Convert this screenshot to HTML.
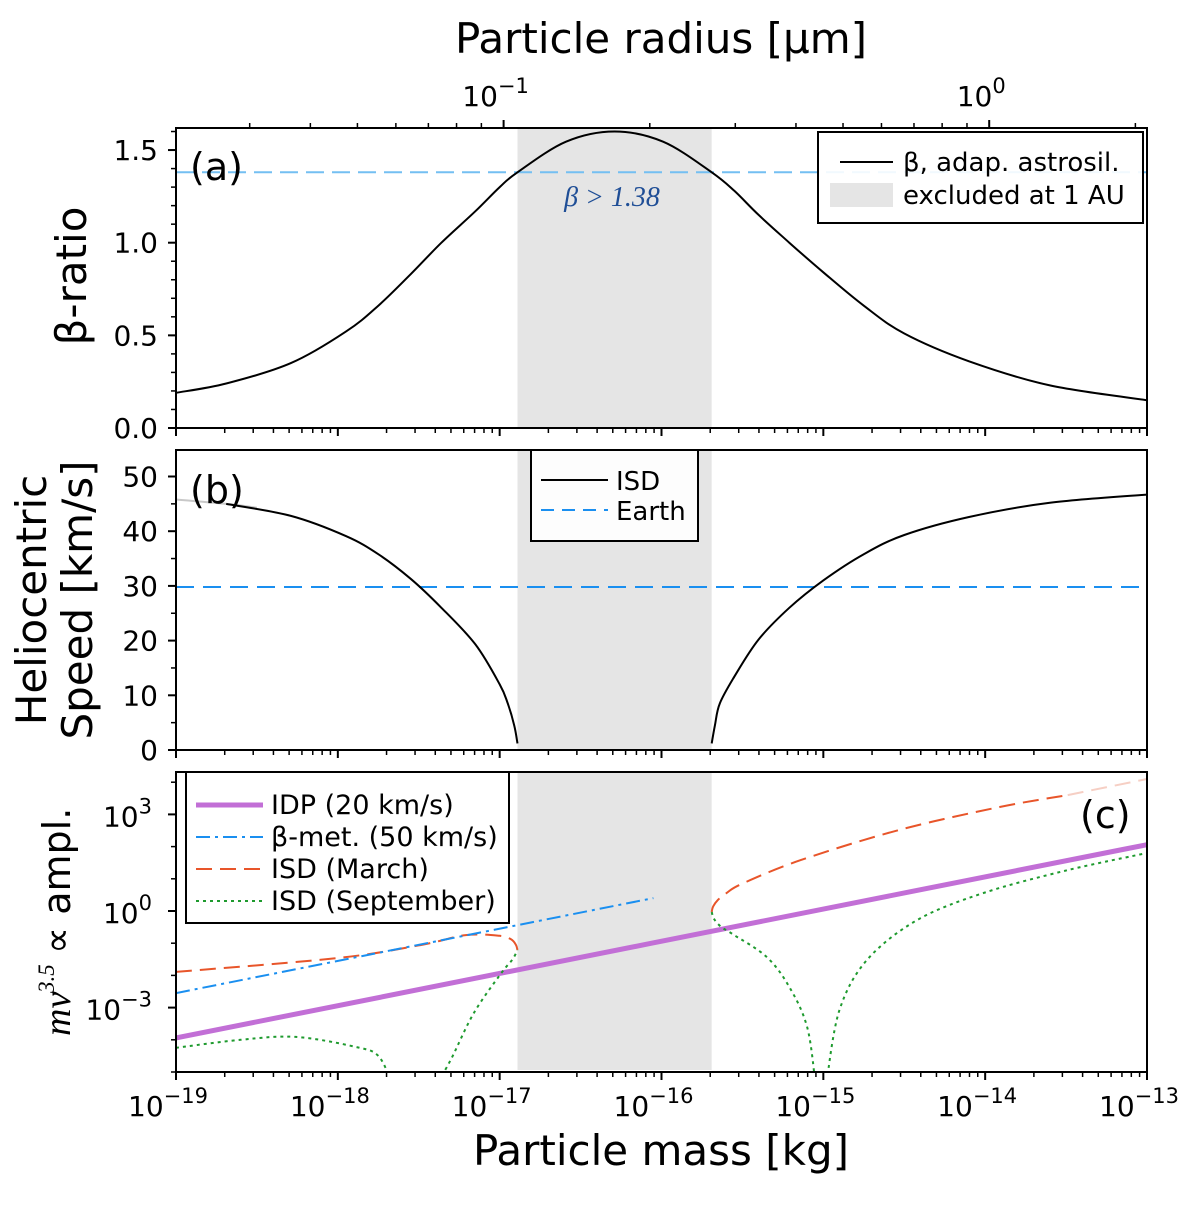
<!DOCTYPE html>
<html><head><meta charset="utf-8">
<style>
html,body{margin:0;padding:0;background:#fff;}
svg text{font-family:"DejaVu Sans","Liberation Sans",sans-serif;fill:#000;}
</style></head>
<body>
<svg id="chart" width="1200" height="1200" viewBox="0 0 1200 1200" xmlns="http://www.w3.org/2000/svg">
<defs>
<clipPath id="clipA"><rect x="176" y="128" width="971" height="300"/></clipPath>
<clipPath id="clipB"><rect x="176" y="450" width="971" height="300"/></clipPath>
<clipPath id="clipC"><rect x="176" y="772" width="971" height="300"/></clipPath>
</defs>
<g id="layer"></g>
</svg>
<script>
// ---- data (log10 mass [kg]) ----
const betaLogM = [-19,-18.69,-18.29,-17.95,-17.75,-17.55,-17.36,-17.15,-17.0,-16.89,-16.59,-16.29,-15.99,-15.69,-15.55,-15.4,-15.21,-15.0,-14.75,-14.5,-14.1,-13.6,-13];
const betaVals = [0.19,0.24,0.35,0.52,0.66,0.83,1.0,1.17,1.30,1.38,1.545,1.6,1.545,1.38,1.28,1.15,1.0,0.84,0.66,0.51,0.36,0.23,0.15];
const betaLimit = 1.38;
const excludedLogM = [-16.89,-15.69];

const speedLeftLogM = [-19,-18.69,-18.29,-17.95,-17.75,-17.55,-17.36,-17.15,-17.0,-16.95,-16.91,-16.89];
const speedLeftVals = [45.8,45.0,42.8,39.1,35.8,31.3,26.0,19.3,12.0,8.5,4.5,1.2];
const speedRightLogM = [-15.69,-15.67,-15.64,-15.55,-15.4,-15.21,-15.0,-14.75,-14.5,-14.1,-13.6,-13];
const speedRightVals = [1.2,4.5,8.5,13.4,20.2,26.0,31.0,35.8,39.3,42.6,45.2,46.7];
const speedFadeLogM = [-19,-18.69,-18.5];
const speedFadeVals = [45.8,45.0,44.3];
const earthSpeed = 29.8;

const idpLogM = [-19,-13.15,-13];
const idpLogA = [-3.94,1.91,2.05];
const betaMetLogM = [-19,-16.05];
const betaMetLogA = [-2.55,0.40];
const marchLeftLogM = [-19,-18,-17.49,-17.21,-17.0,-16.93,-16.90,-16.89];
const marchLeftLogA = [-1.89,-1.46,-1.06,-0.75,-0.77,-0.88,-1.05,-1.21];
const marchRightLogM = [-15.69,-15.68,-15.65,-15.60,-15.50,-15.14,-14.53,-13.91,-13.49];
const marchRightLogA = [-0.03,0.15,0.35,0.55,0.85,1.58,2.52,3.23,3.60];
const marchFadeLogM = [-13.49,-13];
const marchFadeLogA = [3.60,4.10];
const sepA_LogM = [-19,-18.6,-18.26,-17.89,-17.75,-17.67];
const sepA_LogA = [-4.25,-4.0,-3.91,-4.22,-4.5,-5.3];
const sepB_LogM = [-17.38,-17.30,-17.16,-16.99,-16.92,-16.89];
const sepB_LogA = [-5.3,-4.6,-3.17,-1.93,-1.5,-1.21];
const sepC_LogM = [-15.69,-15.675,-15.63,-15.56,-15.35,-15.21,-15.10,-15.05];
const sepC_LogA = [-0.03,-0.25,-0.5,-0.72,-1.43,-2.36,-3.60,-5.3];
const sepD_LogM = [-14.98,-14.90,-14.73,-14.42,-14.01,-13.49,-13];
const sepD_LogA = [-5.3,-3.07,-1.52,-0.28,0.56,1.27,1.80];

const xTicks = [-19,-18,-17,-16,-15,-14,-13];
const betaTicks = [0,0.5,1.0,1.5];
const betaTickLabels = ["0.0","0.5","1.0","1.5"];
const speedTicks = [0,10,20,30,40,50];
const ampTicks = [-3,0,3];
const radiusTicks = [-1,0];

// ---- axes ----
const X0=176,X1=1147;
const xs = lm => X0 + (lm+19)/6*(X1-X0);
const ya = b => 428 - b*185.3;
const yb = v => 750 - v*5.47;
const yc = la => 911 - la*32.2;
const xr = lr => 503.6 + (lr+1)*485.6;

const NS="http://www.w3.org/2000/svg";
const layer=document.getElementById('layer');
function mk(tag,attrs,parent){const e=document.createElementNS(NS,tag);for(const k in attrs)e.setAttribute(k,attrs[k]);(parent||layer).appendChild(e);return e;}
function smooth(px){
  if(px.length<3) return 'M'+px.map(p=>p[0].toFixed(1)+','+p[1].toFixed(1)).join(' L');
  let d='M'+px[0][0].toFixed(1)+','+px[0][1].toFixed(1);
  for(let i=0;i<px.length-1;i++){
    const p0=px[Math.max(0,i-1)],p1=px[i],p2=px[i+1],p3=px[Math.min(px.length-1,i+2)];
    const c1=[p1[0]+(p2[0]-p0[0])/6,p1[1]+(p2[1]-p0[1])/6];
    const c2=[p2[0]-(p3[0]-p1[0])/6,p2[1]-(p3[1]-p1[1])/6];
    d+=` C${c1[0].toFixed(1)},${c1[1].toFixed(1)} ${c2[0].toFixed(1)},${c2[1].toFixed(1)} ${p2[0].toFixed(1)},${p2[1].toFixed(1)}`;
  }
  return d;
}
function series(lx,ly,fy,attrs,clip,name){
  const px=lx.map((v,i)=>[xs(v),fy(ly[i])]);
  const p=mk('path',Object.assign({d:smooth(px),fill:'none','clip-path':'url(#'+clip+')'},attrs));
  
  
  return p;
}
function text(x,y,s,attrs,name){
  const t=mk('text',Object.assign({x:x,y:y},attrs||{}));t.textContent=s;
  
  
  return t;
}

// grey excluded bands
const bands=[[128,428,'band-a'],[450,750,'band-b'],[773,1070,'band-c']];
bands.forEach(b=>{
  const r=mk('rect',{x:xs(excludedLogM[0]),y:b[0],width:xs(excludedLogM[1])-xs(excludedLogM[0]),height:b[1]-b[0],fill:'#e5e5e5'});
  
  
});

// ---- panel a ----
const bl=mk('line',{x1:X0,x2:X1,y1:ya(betaLimit),y2:ya(betaLimit),stroke:'#74bff2','stroke-width':2,'stroke-dasharray':'18,8'});


series(betaLogM,betaVals,ya,{stroke:'#000','stroke-width':2},'clipA','beta-curve');
text(612,206,'β > 1.38',{'font-style':'italic','font-size':28,'text-anchor':'middle',style:'fill:#1f4e96;font-family:"Liberation Serif",serif'},'beta-threshold-label');

// ---- panel b ----
const el=mk('line',{x1:X0,x2:X1,y1:yb(earthSpeed),y2:yb(earthSpeed),stroke:'#1a8ff0','stroke-width':2,'stroke-dasharray':'18,9'});


series(speedFadeLogM,speedFadeVals,yb,{stroke:'#c8c8c8','stroke-width':2},'clipB','isd-speed-faded');
series(speedLeftLogM.slice(1),speedLeftVals.slice(1),yb,{stroke:'#000','stroke-width':2},'clipB','isd-speed-left');
series(speedRightLogM,speedRightVals,yb,{stroke:'#000','stroke-width':2},'clipB','isd-speed-right');

// ---- panel c ----
series(idpLogM,idpLogA,yc,{stroke:'#c26fd6','stroke-width':5},'clipC','idp-line');
series(marchLeftLogM,marchLeftLogA,yc,{stroke:'#e8552a','stroke-width':2,'stroke-dasharray':'16,8'},'clipC','isd-march-left');
series(marchRightLogM,marchRightLogA,yc,{stroke:'#e8552a','stroke-width':2,'stroke-dasharray':'16,8'},'clipC','isd-march-right');
series(marchFadeLogM,marchFadeLogA,yc,{stroke:'#f6cfc4','stroke-width':2,'stroke-dasharray':'16,8'},'clipC','isd-march-faded');
series(betaMetLogM,betaMetLogA,yc,{stroke:'#1a8ff0','stroke-width':2,'stroke-dasharray':'14,5,3,5'},'clipC','beta-meteoroid-line');
[[sepA_LogM,sepA_LogA],[sepB_LogM,sepB_LogA],[sepC_LogM,sepC_LogA],[sepD_LogM,sepD_LogA]].forEach((s,i)=>{
  series(s[0],s[1],yc,{stroke:'#1e9a2e','stroke-width':2,'stroke-dasharray':'3,4'},'clipC','isd-september-'+i);
});

// ---- frames & ticks ----
const panels=[[128,428,'a'],[450,750,'b'],[772,1072,'c']];
panels.forEach(p=>{
  const f=mk('rect',{x:X0,y:p[0],width:X1-X0,height:p[1]-p[0],fill:'none',stroke:'#000','stroke-width':2});
  
  
  xTicks.forEach(t=>{
    mk('line',{x1:xs(t),x2:xs(t),y1:p[1],y2:p[1]+8,stroke:'#000','stroke-width':2});
    if(t<-13) for(let k=2;k<10;k++){const x=xs(t+Math.log10(k));mk('line',{x1:x,x2:x,y1:p[1],y2:p[1]+5,stroke:'#000','stroke-width':1.5});}
  });
});
// bottom labels
xTicks.forEach(t=>{
  const g=text(xs(t)-8,1116,'10',{'font-size':28,'text-anchor':'middle'},'x-tick-label');
  const s=mk('tspan',{dy:-13,'font-size':21});s.textContent='−'+Math.abs(t);g.appendChild(s);
});
text(661,1165,'Particle mass [kg]',{'font-size':42,'text-anchor':'middle'},'x-axis-title');
// top radius axis
radiusTicks.forEach(t=>{
  mk('line',{x1:xr(t),x2:xr(t),y1:128,y2:120,stroke:'#000','stroke-width':2});
  const g=text(xr(t)-8,106,'10',{'font-size':28,'text-anchor':'middle'},'radius-tick-label');
  const s=mk('tspan',{dy:-13,'font-size':21});s.textContent=t<0?'−1':'0';g.appendChild(s);
});
[-2,-1,0].forEach(d=>{for(let k=2;k<10;k++){const x=xr(d+Math.log10(k));if(x>X0&&x<X1)mk('line',{x1:x,x2:x,y1:128,y2:123,stroke:'#000','stroke-width':1.5});}});
text(661,53,'Particle radius [μm]',{'font-size':42,'text-anchor':'middle'},'top-axis-title');
// panel a y
betaTicks.forEach((t,i)=>{mk('line',{x1:X0,x2:X0-8,y1:ya(t),y2:ya(t),stroke:'#000','stroke-width':2});text(158,ya(t)+10,betaTickLabels[i],{'font-size':28,'text-anchor':'end'},'beta-tick-label');});
for(let v=0.1;v<1.62;v+=0.1){mk('line',{x1:X0,x2:X0-5,y1:ya(v),y2:ya(v),stroke:'#000','stroke-width':1.5});}
text(0,0,'β-ratio',{'font-size':42,'text-anchor':'middle',transform:'translate(86,276) rotate(-90)'},'beta-axis-title');
// panel b y
speedTicks.forEach(t=>{mk('line',{x1:X0,x2:X0-8,y1:yb(t),y2:yb(t),stroke:'#000','stroke-width':2});text(158,yb(t)+10,String(t),{'font-size':28,'text-anchor':'end'},'speed-tick-label');});
for(let v=5;v<55;v+=10){mk('line',{x1:X0,x2:X0-5,y1:yb(v),y2:yb(v),stroke:'#000','stroke-width':1.5});}
text(0,0,'Heliocentric',{'font-size':42,'text-anchor':'middle',transform:'translate(46,600) rotate(-90)'},'speed-axis-title-1');
text(0,0,'Speed [km/s]',{'font-size':42,'text-anchor':'middle',transform:'translate(92,600) rotate(-90)'},'speed-axis-title-2');
// panel c y
for(let d=-5;d<=4;d++){mk('line',{x1:X0,x2:X0-(d%3===0?8:5),y1:yc(d),y2:yc(d),stroke:'#000','stroke-width':d%3===0?2:1.5});}
ampTicks.forEach(t=>{
  const g=text(152,yc(t)+12,'10',{'font-size':28,'text-anchor':'end'},'amp-tick-label');
  const s=mk('tspan',{dy:-13,'font-size':21});s.textContent=t<0?'−3':String(t);g.appendChild(s);
});
{
  const g=mk('g',{transform:'translate(70,918) rotate(-90)'});
  
  
  const t1=mk('text',{x:-118,y:0,'font-size':38,'font-style':'italic',style:'font-family:"Liberation Serif",serif'},g);t1.textContent='mv';
  const t2=mk('text',{x:-75,y:-16,'font-size':23,'font-style':'italic',style:'font-family:"Liberation Serif",serif'},g);t2.textContent='3.5';
  const t3=mk('text',{x:-36,y:0,'font-size':38},g);t3.textContent='∝ ampl.';
}
// panel letters
text(190,180,'(a)',{'font-size':38},'panel-label-a');
text(190,503,'(b)',{'font-size':38},'panel-label-b');
text(1080,828,'(c)',{'font-size':38},'panel-label-c');

// ---- legends ----
function legendBox(x,y,w,h,name){const r=mk('rect',{x:x,y:y,width:w,height:h,fill:'#fff','fill-opacity':0.9,stroke:'#000','stroke-width':2});}
legendBox(818,132,325,91,'legend-a');
mk('line',{x1:840,x2:893,y1:162,y2:162,stroke:'#000','stroke-width':2});
text(903,171,'β, adap. astrosil.',{'font-size':26},'legend-beta');
mk('rect',{x:830,y:183,width:63,height:24,fill:'#e5e5e5'});
text(903,204,'excluded at 1 AU',{'font-size':26},'legend-excluded');

legendBox(531,450,167,91,'legend-b');
mk('line',{x1:541,x2:608,y1:480,y2:480,stroke:'#000','stroke-width':2});
text(616,490,'ISD',{'font-size':26},'legend-isd');
mk('line',{x1:541,x2:608,y1:510,y2:510,stroke:'#1a8ff0','stroke-width':2,'stroke-dasharray':'13,8'});
text(616,520,'Earth',{'font-size':26},'legend-earth');

legendBox(186,772,323,151,'legend-c');
const lc=[['#c26fd6',5,'none','IDP (20 km/s)'],['#1a8ff0',2,'14,5,3,5','β-met. (50 km/s)'],['#e8552a',2,'16,8','ISD (March)'],['#1e9a2e',2,'3,4','ISD (September)']];
lc.forEach((e,i)=>{
  const y=805+i*32;
  mk('line',{x1:196,x2:263,y1:y,y2:y,stroke:e[0],'stroke-width':e[1],'stroke-dasharray':e[2]});
  text(271,y+9,e[3],{'font-size':27},'legend-entry-'+i);
});
</script>
</body></html>
